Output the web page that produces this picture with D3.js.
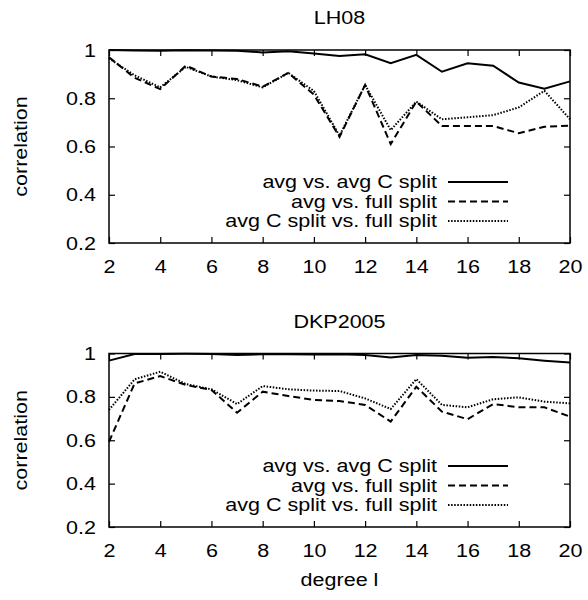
<!DOCTYPE html>
<html>
<head>
<meta charset="utf-8">
<script src="https://cdnjs.cloudflare.com/ajax/libs/d3/7.8.5/d3.min.js"></script>
<style>
  body { margin: 0; background: #fff; }
  svg text { font-family: "Liberation Sans", Arial, sans-serif; font-size: 17.5px; fill: #000; }
</style>
</head>
<body>
<script>
// degree l
var degrees = [2,3,4,5,6,7,8,9,10,11,12,13,14,15,16,17,18,19,20];
var yTicks = [0.2, 0.4, 0.6, 0.8, 1];
var xTicks = [2,4,6,8,10,12,14,16,18,20];

// LH08
var lhAvgC   = [1.0,0.998,0.997,0.999,0.998,0.997,0.99,0.995,0.985,0.975,0.982,0.945,0.98,0.91,0.945,0.935,0.865,0.84,0.87];
var lhFull   = [0.97,0.885,0.838,0.935,0.89,0.88,0.848,0.905,0.815,0.64,0.855,0.61,0.786,0.685,0.685,0.685,0.655,0.682,0.686];
var lhCFull  = [0.965,0.895,0.845,0.93,0.89,0.875,0.845,0.905,0.83,0.645,0.855,0.668,0.786,0.713,0.721,0.73,0.762,0.831,0.713];

// DKP2005
var dkAvgC   = [0.967,0.998,0.998,0.999,0.998,0.993,0.997,0.996,0.995,0.996,0.993,0.982,0.993,0.99,0.98,0.984,0.978,0.967,0.958];
var dkFull   = [0.593,0.862,0.896,0.855,0.832,0.727,0.824,0.804,0.786,0.781,0.763,0.686,0.847,0.732,0.697,0.767,0.752,0.752,0.709];
var dkCFull  = [0.74,0.881,0.916,0.859,0.835,0.767,0.85,0.835,0.829,0.827,0.793,0.744,0.882,0.763,0.752,0.789,0.798,0.778,0.77];

var legendLabels = ["avg vs. avg C split", "avg vs. full split", "avg C split vs. full split"];
var dashes = [null, "7,4", "1.5,1.6"];

var SX = 1.23; // the reference text is drawn wide

var svg = d3.select("body").append("svg")
    .attr("width", 588)
    .attr("height", 600);

var left = 109, right = 570;

function label(g, x, y, txt, anchor, rot) {
    return g.append("text")
        .attr("transform", "translate(" + x + "," + y + ")" + (rot ? " rotate(" + rot + ")" : "") + " scale(" + SX + ",1)")
        .attr("text-anchor", anchor || "middle")
        .text(txt);
}

function panel(title, top, bottom, series) {
    var x = d3.scaleLinear().domain([2, 20]).range([left, right]);
    var y = d3.scaleLinear().domain([0.2, 1]).range([bottom, top]);
    var g = svg.append("g");

    label(g, (left + right) / 2, top - 26, title);
    label(g, 27, (top + bottom) / 2, "correlation", "middle", -90);

    // axes (ticks inward, mirrored)
    var tk = 6;
    var xb = g.append("g").attr("transform", "translate(0," + bottom + ")")
        .call(d3.axisBottom(x).tickValues(xTicks).tickSize(-tk));
    var xt = g.append("g").attr("transform", "translate(0," + top + ")")
        .call(d3.axisTop(x).tickValues(xTicks).tickSize(-tk).tickFormat(""));
    var yl = g.append("g").attr("transform", "translate(" + left + ",0)")
        .call(d3.axisLeft(y).tickValues(yTicks).tickSize(-tk).tickFormat(d3.format("")));
    var yr = g.append("g").attr("transform", "translate(" + right + ",0)")
        .call(d3.axisRight(y).tickValues(yTicks).tickSize(-tk).tickFormat(""));
    [xb, xt, yl, yr].forEach(function (a) {
        a.select(".domain").remove();
        a.selectAll("line").attr("stroke", "#000").attr("stroke-width", 1.2);
        a.selectAll("text").attr("font-size", null).attr("font-family", null);
    });
    xb.selectAll(".tick text")
        .attr("x", null).attr("y", null).attr("dy", null)
        .attr("transform", "translate(0,30) scale(" + SX + ",1)");
    yl.selectAll(".tick text")
        .attr("x", null).attr("y", null).attr("dy", null)
        .attr("transform", "translate(-13,6) scale(" + SX + ",1)");

    // legend
    var ly0 = bottom - 61;
    legendLabels.forEach(function (lab, i) {
        var ly = ly0 + i * 19.5;
        label(g, 437, ly + 6, lab, "end");
        g.append("line")
            .attr("x1", 448).attr("x2", 508)
            .attr("y1", ly).attr("y2", ly)
            .attr("stroke", "#000")
            .attr("stroke-width", 2)
            .attr("stroke-dasharray", dashes[i]);
    });

    // series
    var line = d3.line()
        .x(function (d, i) { return x(degrees[i]); })
        .y(function (d) { return y(d); });
    series.forEach(function (s, i) {
        g.append("path")
            .datum(s)
            .attr("fill", "none")
            .attr("stroke", "#000")
            .attr("stroke-width", 2)
            .attr("stroke-dasharray", dashes[i])
            .attr("d", line);
    });

    // frame
    g.append("rect")
        .attr("x", left).attr("y", top)
        .attr("width", right - left).attr("height", bottom - top)
        .attr("fill", "none")
        .attr("stroke", "#000")
        .attr("stroke-width", 1.5);
}

panel("LH08", 50, 243, [lhAvgC, lhFull, lhCFull]);
panel("DKP2005", 353.5, 527, [dkAvgC, dkFull, dkCFull]);

label(svg, (left + right) / 2, 586, "degree l");
</script>
</body>
</html>
